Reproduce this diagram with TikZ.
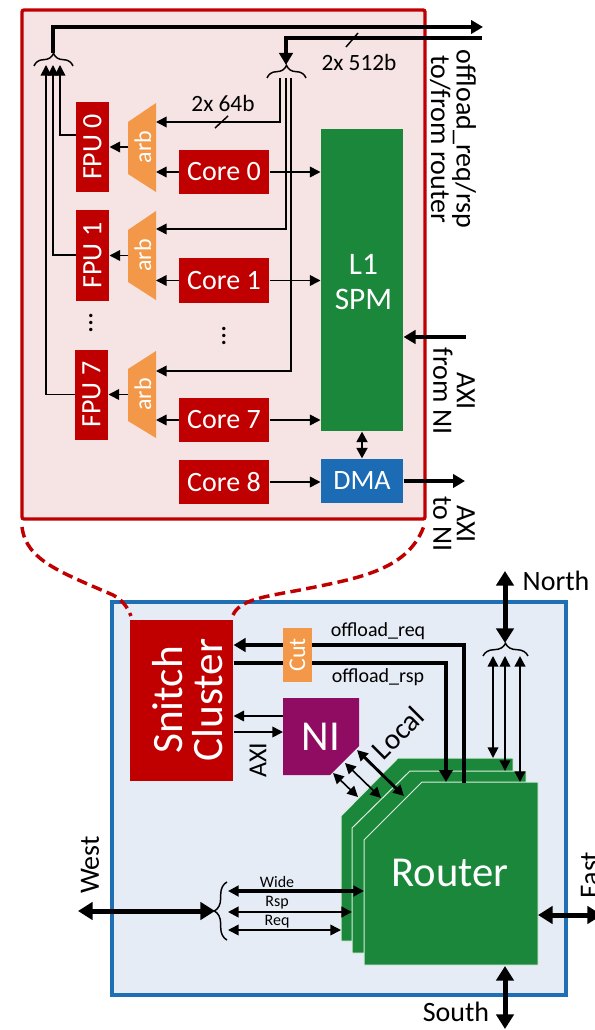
\documentclass[tikz,border=0pt]{standalone}
\usepackage{fontspec}
\setmainfont{Carlito}
\usetikzlibrary{arrows.meta,decorations.pathreplacing}
\definecolor{snitchred}{HTML}{C00000}
\definecolor{clusterbg}{HTML}{F6E3E3}
\definecolor{tilebg}{HTML}{E6ECF6}
\definecolor{tileblue}{HTML}{1F6FB5}
\definecolor{routergreen}{HTML}{1A873B}
\definecolor{dmablue}{HTML}{1B6BB5}
\definecolor{arborange}{HTML}{F39848}
\definecolor{nipurple}{HTML}{900C62}
\tikzset{every picture/.style={line width=0.75pt}}
\tikzset{
  redbox/.style={fill=snitchred,text=white,inner sep=0pt,font=\fontsize{21}{25}\selectfont},
  tipsmall/.style={arrows={-{Triangle[length=8pt,width=8pt]}}},
  tipboth/.style={arrows={{Triangle[length=8pt,width=8pt]}-{Triangle[length=8pt,width=8pt]}}},
  wirethin/.style={line width=1.2pt,tipsmall},
  wirethick/.style={line width=2.5pt,-{Triangle[length=9pt,width=10pt]}},
  wirebi/.style={line width=1.2pt,tipboth},
  wirebig/.style={line width=3.75pt,{Triangle[length=11pt,width=13pt]}-{Triangle[length=11pt,width=13pt]}},
  bundle/.style={line width=1.1pt,decorate,decoration={brace,amplitude=9.5pt}},
  routerlayer/.style={fill=routergreen,draw=white!85!routergreen,line width=0.75pt},
  txt/.style={inner sep=0pt,font=\fontsize{21}{25}\selectfont},
  txtsmall/.style={inner sep=0pt,font=\fontsize{17.5}{21}\selectfont},
  txtnote/.style={inner sep=0pt,font=\fontsize{15}{18}\selectfont},
  txttiny/.style={inner sep=0pt,font=\fontsize{12}{14}\selectfont}
}
\begin{document}
\begin{tikzpicture}[x=0.75pt,y=0.75pt,yscale=-1,xscale=1]
\useasboundingbox (0,0) rectangle (594,1030);

%Shape: Cluster frame
\draw [draw=snitchred,fill=clusterbg,line width=2.5pt,rounded corners=1.5pt] (22,10) rectangle (425,519);
%Shape: Tile frame
\draw [draw=tileblue,fill=tilebg,line width=2.5pt] (112,602) rectangle (566,995);

% Cluster blocks
\draw (92.5,147) node [redbox,minimum width=67.5pt,minimum height=24.75pt,rotate=90] (fpu0) {FPU 0};
\draw (92.5,255.5) node [redbox,minimum width=67.5pt,minimum height=24.75pt,rotate=90] (fpu1) {FPU 1};
\draw (91.5,394.5) node [redbox,minimum width=67.5pt,minimum height=24.75pt,rotate=90] (fpu7) {FPU 7};
\draw (224,172) node [redbox,minimum width=67.5pt,minimum height=33pt] (core0) {Core 0};
\draw (224,280.5) node [redbox,minimum width=67.5pt,minimum height=33pt] (core1) {Core 1};
\draw (224,420) node [redbox,minimum width=67.5pt,minimum height=33pt] (core7) {Core 7};
\draw (224,482) node [redbox,minimum width=67.5pt,minimum height=33pt] (core8) {Core 8};
\draw (362,280) node [fill=routergreen,inner sep=0pt,minimum width=61.5pt,minimum height=226.5pt] (spm) {};
\draw (363.5,282) node [text=white,align=center,inner sep=0pt,font=\fontsize{23.5}{26}\selectfont] (spmtxt) {L1\\SPM};
\draw (362,481) node [fill=dmablue,text=white,inner sep=0pt,minimum width=61.5pt,minimum height=33pt,font=\fontsize{21}{25}\selectfont] (dma) {DMA};

%Shape: Arbiters
\draw [fill=arborange,draw=none] (128,122) -- (156,103) -- (156,192) -- (128,174) -- cycle;
\draw [fill=arborange,draw=none] (128,230) -- (156,211) -- (156,300) -- (128,282) -- cycle;
\draw [fill=arborange,draw=none] (128,369) -- (156,351) -- (156,438) -- (128,421) -- cycle;
\draw (143,147) node [rotate=90,text=white,inner sep=0pt,font=\fontsize{18}{21}\selectfont] (arb0) {arb};
\draw (143,255.5) node [rotate=90,text=white,inner sep=0pt,font=\fontsize{18}{21}\selectfont] (arb1) {arb};
\draw (143,394.5) node [rotate=90,text=white,inner sep=0pt,font=\fontsize{18}{21}\selectfont] (arb7) {arb};
\coordinate (arb0w) at (128,147);
\coordinate (arb1w) at (128,255.5);
\coordinate (arb7w) at (128,394.5);
\coordinate (arb0a) at (156,122);
\coordinate (arb1a) at (156,229);
\coordinate (arb7a) at (156,371);
\coordinate (arb0b) at (156,172);
\coordinate (arb1b) at (156,280.5);
\coordinate (arb7b) at (156,420);

% Cluster braces
\coordinate (fpubr) at (53,53);
\coordinate (hubbr) at (286,65);
\draw [bundle] (34,66) -- (73,66);
\draw [bundle] (267,78) -- (306,78);

%Straight Lines
\draw [wirethin] (arb0w) -- (fpu0.south);
\draw [wirethin] (arb1w) -- (fpu1.south);
\draw [wirethin] (arb7w) -- (fpu7.south);
\draw [wirethin] (core0.west) -- (arb0b);
\draw [wirethin] (core1.west) -- (arb1b);
\draw [wirethin] (core7.west) -- (arb7b);
\draw [wirethin] (core0.east) -- (core0.east -| spm.west);
\draw [wirethin] (core1.east) -- (core1.east -| spm.west);
\draw [wirethin] (core7.east) -- (core7.east -| spm.west);
\draw [wirethin] (core8.east) -- (core8.east -| dma.west);
\draw [wirethin] (280,78) |- (arb0a);
\draw [wirethin] (286,78) |- (arb1a);
\draw [wirethin] (291,78) |- (arb7a);
\draw [wirethin] (fpu0.north |- 0,135) -| (60,65);
\draw [wirethin] (fpu1.north |- 0,255) -| (53,65);
\draw [wirethin] (fpu7.north) -| (46,65);
\draw [line width=2pt,tipboth] (spm.south) -- (dma.north);

%Straight Lines
\draw [wirethick] (fpubr) |- (483,27);
\draw [wirethick] (482,38) -| (hubbr);
\draw [line width=1.1pt] (346,47) -- (358,33);
\draw [line width=1.1pt] (215,128) -- (228,116);
\coordinate (axiin) at (466,337);
\coordinate (axiout) at (465,482);
\draw [wirethick] (axiin) -- (spm.east |- axiin);
\draw [wirethick] (dma.east) -- (dma.east -| axiout);

% Text Node
\draw (223,103) node [txtsmall] (w64) {2x 64b};
\draw (359,62) node [txtsmall] (w512) {2x 512b};
\draw (91,323) node [txt,rotate=90] (dotsa) {...};
\draw (224,336) node [txt,rotate=90] (dotsb) {...};
\draw (453,139) node [rotate=-90,align=center,inner sep=0pt,font=\fontsize{21}{17.5}\selectfont] (offl) {offload\_req/rsp\\to/from router};
\draw (454,391) node [rotate=-90,align=center,inner sep=0pt,font=\fontsize{21}{17.5}\selectfont] (axifrom) {AXI\\from NI};
\draw (454,524) node [rotate=-90,align=center,inner sep=0pt,font=\fontsize{21}{17.5}\selectfont] (axito) {AXI\\to NI};

%Curve Lines
\draw [snitchred,line width=2.6pt,dash pattern=on 8pt off 4pt] (22,527) .. controls (26,560) and (60,572) .. (113,595) .. controls (122,600) and (127,606) .. (131,616);
\draw [snitchred,line width=2.6pt,dash pattern=on 8pt off 4pt] (233,615) .. controls (240,600) and (262,597) .. (300,590) .. controls (360,578) and (410,570) .. (425,523);

%Shape: Router layers
\draw [routerlayer] (398,758) -- (513,758) -- (513,941) -- (341,941) -- (341,816) -- cycle;
\draw [routerlayer] (410,771) -- (526,771) -- (526,953) -- (352,953) -- (352,828) -- cycle;
\draw [routerlayer] (422,782) -- (538,782) -- (538,965) -- (364,965) -- (364,840) -- cycle;
\draw (450,873) node [text=white,inner sep=0pt,font=\fontsize{32}{36}\selectfont] (router) {Router};

%Straight Lines
\coordinate (reqin) at (464,783);
\coordinate (rspin) at (446,782);
\draw (181.5,700.5) node [fill=snitchred,inner sep=0pt,minimum width=77.25pt,minimum height=120.75pt] (snitch) {};
\draw (187.5,700) node [rotate=90,text=white,align=center,inner sep=0pt,font=\fontsize{32.5}{30}\selectfont] (snitchtxt) {Snitch\\Cluster};
\draw [wirethick] (reqin) |- (snitch.east |- 0,645);
\draw [wirethick] (snitch.east |- 0,663) -| (rspin);
\draw (297.5,655) node [fill=arborange,text=white,inner sep=0pt,rotate=90,font=\fontsize{18}{21}\selectfont,minimum width=40.5pt,minimum height=21.75pt] (cut) {Cut};

%Shape: NI
\draw [fill=nipurple,draw=none] (283,698) -- (359,698) -- (359,746) -- (330,775) -- (283,775) -- cycle;
\draw (321,737) node [text=white,inner sep=0pt,font=\fontsize{32}{36}\selectfont] (ni) {NI};
\coordinate (niw) at (283,716);
\coordinate (nix) at (283,732);
\draw [wirethin] (niw) -- (snitch.east |- niw);
\draw [wirethin] (snitch.east |- nix) -- (nix);

%Straight Lines
\coordinate (lcla) at (333,773);
\coordinate (lclb) at (345,763);
\coordinate (lclc) at (357,750);
\coordinate (lcld) at (358,797);
\coordinate (lcle) at (381,798);
\coordinate (lclf) at (404,796);
\draw [wirebi] (lcla) -- (lcld);
\draw [wirebi] (lclb) -- (lcle);
\draw [line width=2.2pt,tipboth] (lclc) -- (lclf);

% North and brace
\coordinate (nth) at (505,571);
\coordinate (nthbr) at (505,643);
\coordinate (sth) at (505,1029);
\coordinate (wst) at (78,911);
\coordinate (wstbr) at (215,911);
\draw [wirebig] (nth) -- (nthbr);
\draw [bundle] (483,656) -- (528,656);
\draw [wirebig] (505,966) -- (sth);
\draw [wirebig] (wst) -- (wstbr);
\draw [wirebig] (538,915) -- (602,915);
\draw [bundle] (227,940) -- (227,882);
\draw [wirebi] (493,656) -- (493,758);
\draw [line width=1pt,tipboth] (505,656) -- (505,771);
\draw [line width=1.7pt,tipboth] (520,656) -- (520,782);
\draw [line width=2.4pt,tipboth] (228,891) -- (364,891);
\draw [line width=1.7pt,tipboth] (228,912) -- (352,912);
\draw [wirebi] (228,930) -- (341,930);

% Text Node
\draw (378,631) node [txtnote] (reqlbl) {offload\_req};
\draw (378,677) node [txtnote] (rsplbl) {offload\_rsp};
\draw (258,760) node [rotate=90,inner sep=0pt,font=\fontsize{19.5}{23}\selectfont] (axilbl) {AXI};
\draw (398,733) node [txt,rotate=45,font=\fontsize{22}{25}\selectfont] (local) {Local};
\draw (556,581) node [txt] (north) {North};
\draw (456,1012) node [txt] (south) {South};
\draw (90,865) node [txt,rotate=90] (west) {West};
\draw (590,875) node [txt,rotate=90] (east) {East};
\draw (277,882) node [txttiny] (wide) {Wide};
\draw (277,903) node [txttiny] (rsp) {Rsp};
\draw (277,922) node [txttiny] (req) {Req};

\end{tikzpicture}
\end{document}
